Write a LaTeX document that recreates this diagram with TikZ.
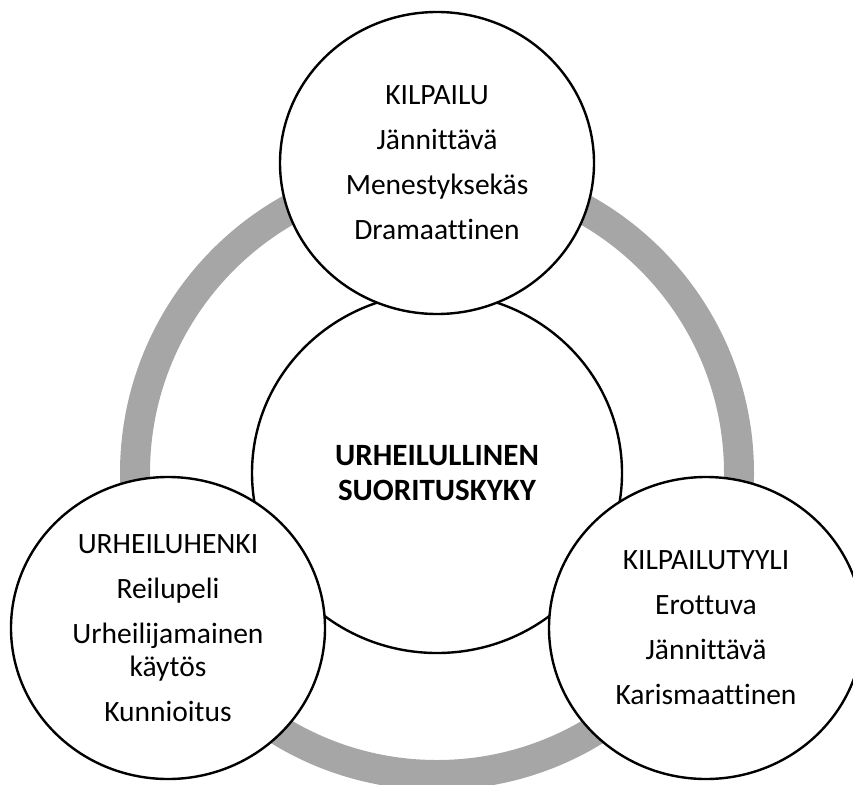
\documentclass[tikz,border=0pt]{standalone}
\usepackage{fontspec}
\setmainfont[Ligatures=NoCommon]{Carlito}
\usetikzlibrary{shapes.geometric}
\definecolor{ringgray}{RGB}{166,166,166}
\tikzset{
  ringband/.style={draw=ringgray,line width=30pt},
  bubble/.style={ellipse,draw=black,line width=2.4pt,fill=white,inner sep=0pt,
    align=center,font=\fontsize{29.5}{33}\selectfont},
  outerbubble/.style={bubble,minimum width=314pt,minimum height=302pt},
  corebubble/.style={bubble,minimum width=370pt,minimum height=360pt,
    font=\fontsize{31}{35}\selectfont\bfseries},
}
\begin{document}
\begin{tikzpicture}[x=1pt,y=-1pt]
  \useasboundingbox (0,0) rectangle (853,784);
  \clip (0,0) rectangle (853,784);
  \coordinate (hub) at (437,473);
  % grey ring linking the three outer themes
  \draw[ringband] (hub) circle [radius=302pt];
  % central theme
  \node[corebubble] (core) at (hub) {URHEILULLINEN\\SUORITUSKYKY};
  % outer themes
  \node[outerbubble] (kilpailu) at (437,163)
    {KILPAILU\\[12pt]Jännittävä\\[12pt]Menestyksekäs\\[12pt]Dramaattinen};
  \node[outerbubble] (henki) at (168,628)
    {URHEILUHENKI\\[12pt]Reilupeli\\[12pt]Urheilijamainen\\käytös\\[12pt]Kunnioitus};
  \node[outerbubble] (tyyli) at (706,628)
    {KILPAILUTYYLI\\[12pt]Erottuva\\[12pt]Jännittävä\\[12pt]Karismaattinen};
\end{tikzpicture}
\end{document}
